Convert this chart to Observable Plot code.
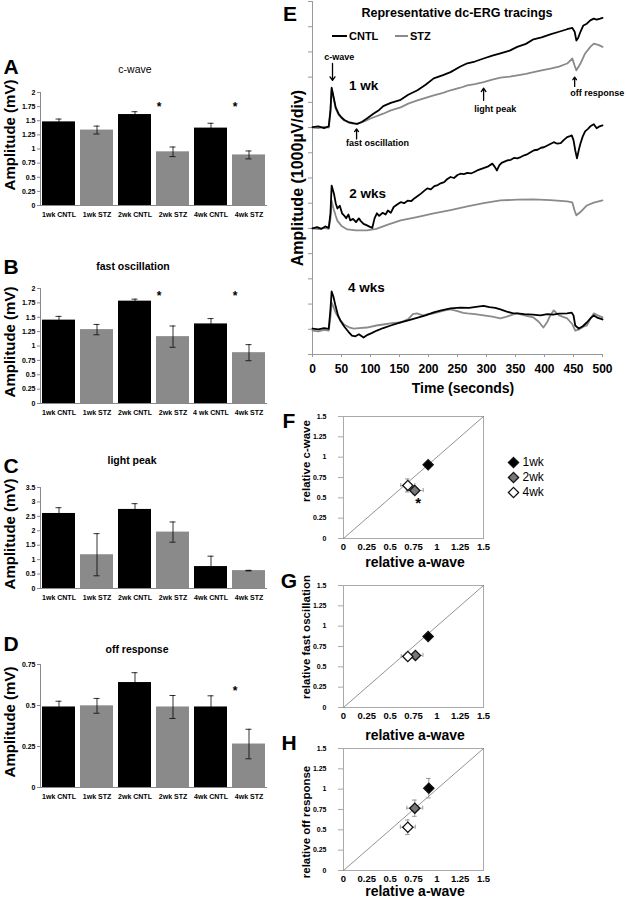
<!DOCTYPE html>
<html><head><meta charset="utf-8">
<script src="https://cdn.jsdelivr.net/npm/d3@7"></script>
<script src="https://cdn.jsdelivr.net/npm/@observablehq/plot@0.6"></script>
<style>
body{margin:0;background:#fff;font-family:"Liberation Sans",Arial,sans-serif;}
#root{position:relative;width:627px;height:900px;overflow:hidden;background:#fff;}
.box{position:absolute;}
.t{position:absolute;white-space:nowrap;font-weight:bold;color:#000;line-height:1;}
</style></head><body><div id="root"></div>
<script>
// ---------- DATA ----------
const barCatsA = ["1wk CNTL","1wk STZ","2wk CNTL","2wk STZ","4wk CNTL","4wk STZ"];
const barCatsB = ["1wk CNTL","1wk STZ","2wk CNTL","2wk STZ","4 wk CNTL","4wk STZ"];
const cwaveMean = [1.48,1.335,1.61,0.95,1.37,0.895];
const cwaveErr  = [0.05,0.07,0.05,0.085,0.085,0.07];
const fastMean  = [1.45,1.285,1.78,1.163,1.384,0.884];
const fastErr   = [0.065,0.09,0.035,0.185,0.093,0.14];
const lightMean = [2.6,1.17,2.74,1.955,0.76,0.62];
const lightErr  = [0.2,0.73,0.2,0.35,0.36,0.01];
const offMean   = [0.491,0.498,0.64,0.491,0.491,0.265];
const offErr    = [0.035,0.045,0.06,0.07,0.068,0.09];
const ticks2    = [0,0.25,0.5,0.75,1,1.25,1.5,1.75,2];
const ticks35   = [0,0.5,1,1.5,2,2.5,3,3.5];
const ticks075  = [0,0.25,0.5,0.75];
const starsA = [{c:"2wk STZ",y:1.82},{c:"4wk STZ",y:1.82}];
const starsB = [{c:"2wk STZ",y:1.93},{c:"4wk STZ",y:1.93}];
const starsD = [{c:"4wk STZ",y:0.61}];

// dc-ERG traces: [time (s), amplitude (divisions of 1000 µV)]
const cntl1wk = [[0,9.02],[10,9.05],[20,8.98],[28,9.05],[31,9.7],[33,10.58],[36,10.25],[40,9.8],[45,9.55],[50,9.4],[55,9.3],[62,9.22],[70,9.18],[77,9.15],[85,9.22],[95,9.38],[105,9.55],[115,9.7],[122,9.85],[135,9.98],[152,10.1],[165,10.3],[181,10.48],[195,10.7],[209,10.95],[225,11.08],[238,11.2],[255,11.42],[267,11.55],[280,11.62],[295,11.74],[310,11.85],[324,11.94],[340,12.05],[353,12.2],[368,12.32],[381,12.5],[395,12.58],[410,12.7],[425,12.8],[439,12.9],[448,12.95],[452,12.8],[455,12.45],[458,12.55],[462,12.8],[467,13.05],[473,13.12],[479,13.25],[485,13.32],[490,13.28],[496,13.32],[500,13.35]];
const stz1wk  = [[0,9.0],[10,8.98],[20,9.03],[28,9.0],[31,9.6],[33,10.52],[36,10.2],[40,9.75],[45,9.5],[50,9.38],[55,9.28],[62,9.2],[70,9.16],[77,9.15],[90,9.25],[100,9.36],[122,9.55],[135,9.68],[152,9.8],[165,9.95],[181,10.08],[195,10.18],[209,10.28],[225,10.38],[238,10.48],[255,10.58],[267,10.67],[280,10.72],[295,10.8],[310,10.9],[324,10.98],[340,11.02],[353,11.07],[368,11.13],[381,11.2],[395,11.27],[410,11.34],[425,11.42],[439,11.54],[448,11.74],[452,11.45],[455,11.27],[462,11.54],[470,11.94],[479,12.2],[485,12.33],[494,12.27],[500,12.2]];
const cntl2wk = [[0,5.0],[8,5.05],[15,4.98],[22,5.08],[28,5.02],[31,5.6],[33,6.7],[37,6.38],[40,6.0],[43,5.79],[47,5.9],[51,5.6],[55,5.5],[58,5.4],[62,5.55],[65,5.32],[70,5.38],[75,5.25],[80,5.4],[83,5.3],[88,5.18],[94,5.12],[99,5.06],[103,5.02],[107,5.4],[111,5.6],[115,5.5],[121,5.62],[126,5.55],[130,5.71],[135,5.62],[140,5.85],[146,5.95],[152,6.04],[158,6.0],[164,6.1],[170,6.08],[176,6.2],[182,6.3],[187,6.38],[193,6.5],[198,6.59],[204,6.55],[210,6.68],[216,6.72],[221,6.79],[227,6.84],[232,6.95],[238,7.04],[244,7.0],[250,7.12],[255,7.17],[261,7.15],[267,7.2],[273,7.18],[278,7.23],[284,7.3],[290,7.35],[296,7.4],[302,7.45],[310,7.57],[314,7.45],[318,7.3],[322,7.5],[326,7.6],[331,7.65],[336,7.7],[342,7.72],[348,7.8],[353,7.78],[359,7.83],[365,7.9],[371,7.95],[376,8.02],[382,8.1],[388,8.12],[394,8.2],[399,8.22],[405,8.29],[410,8.35],[416,8.42],[422,8.36],[428,8.38],[433,8.5],[439,8.62],[444,8.66],[447,8.69],[450,8.5],[453,8.1],[456,7.78],[459,8.1],[462,8.37],[466,8.65],[470,8.85],[475,8.95],[479,9.05],[485,9.13],[490,8.97],[495,9.05],[500,9.09]];
const stz2wk  = [[0,5.0],[10,4.97],[20,5.02],[28,4.98],[31,5.4],[33,6.1],[36,5.8],[40,5.5],[43,5.3],[50,5.1],[60,4.96],[75,4.92],[94,4.92],[110,4.98],[130,5.15],[152,5.32],[180,5.45],[209,5.6],[238,5.73],[267,5.87],[295,6.0],[324,6.11],[353,6.14],[381,6.15],[410,6.12],[439,6.07],[448,6.03],[452,5.7],[455,5.52],[462,5.65],[473,5.91],[485,6.02],[500,6.11]];
const cntl4wk = [[0,1.03],[10,1.0],[20,1.05],[28,1.02],[31,1.8],[33,2.5],[36,2.3],[40,1.9],[44,1.55],[48,1.35],[55,1.1],[62,0.9],[68,0.75],[74,0.72],[80,0.8],[88,0.67],[95,0.78],[102,0.85],[111,0.95],[122,1.05],[135,1.15],[152,1.27],[165,1.35],[180,1.45],[195,1.55],[209,1.67],[222,1.75],[238,1.83],[255,1.86],[270,1.85],[285,1.9],[295,1.93],[305,1.88],[315,1.85],[324,1.79],[335,1.7],[345,1.64],[353,1.63],[365,1.6],[380,1.58],[393,1.55],[405,1.6],[415,1.58],[425,1.62],[439,1.63],[447,1.66],[450,1.55],[453,1.15],[459,1.03],[466,1.12],[473,1.27],[480,1.45],[485,1.55],[492,1.45],[500,1.39]];
const stz4wk  = [[0,0.95],[10,0.92],[20,0.98],[28,0.95],[31,1.5],[33,2.06],[36,1.9],[40,1.65],[48,1.35],[55,1.18],[63,1.08],[71,1.03],[80,1.05],[94,1.07],[110,1.15],[125,1.2],[140,1.25],[152,1.27],[165,1.4],[173,1.6],[180,1.63],[190,1.55],[200,1.6],[209,1.63],[220,1.7],[230,1.76],[238,1.79],[250,1.72],[260,1.65],[267,1.63],[280,1.6],[295,1.55],[310,1.5],[324,1.43],[335,1.5],[345,1.58],[353,1.63],[365,1.55],[381,1.47],[390,1.3],[398,1.07],[405,1.3],[410,1.55],[416,1.75],[425,1.55],[439,1.43],[448,1.2],[453,0.95],[460,1.0],[467,1.1],[473,1.15],[480,1.45],[485,1.63],[492,1.55],[500,1.47]];
const eXTicks = [0,50,100,150,200,250,300,350,400,450,500];
const eYTicks = [0,1,2,3,4,5,6,7,8,9,10,11,12,13,14];
const eLabels = [{t:88,v:10.68,s:"1 wk"},{t:95,v:6.39,s:"2 wks"},{t:93,v:2.66,s:"4 wks"}];
const eNotes  = [{t:46,v:11.8,s:"c-wave"},{t:112,v:8.37,s:"fast oscillation"},{t:315,v:9.72,s:"light peak"},{t:491,v:10.36,s:"off response"}];
const eArrows = [{t1:34.5,v1:11.55,t2:34.5,v2:10.87},{t1:76,v1:8.55,t2:76,v2:8.95},{t1:295,v1:10.08,t2:295,v2:10.56},{t1:452,v1:10.63,t2:452,v2:11.0}];

// relative scatter panels (1wk, 2wk, 4wk)
const groups = ["1wk","2wk","4wk"];
const relA_F = [0.907,0.764,0.689], relA_F_err = [0.02,0.09,0.075];
const relC   = [0.906,0.59,0.652],  relC_err   = [0.03,0.04,0.08];
const relA_G = [0.907,0.771,0.689], relA_G_err = [0.02,0.08,0.07];
const relFO  = [0.873,0.64,0.627],  relFO_err  = [0.03,0.03,0.04];
const relA_H = [0.914,0.764,0.689], relA_H_err = [0.02,0.085,0.08];
const relOff = [1.012,0.766,0.532], relOff_err = [0.12,0.1,0.09];
const relTicks = [0,0.25,0.5,0.75,1,1.25,1.5];
const diag = [0,1.5];
const starF = [{x:0.8,y:0.49}];

// ---------- HELPERS ----------
const FONT = '"Liberation Sans", Arial, sans-serif';
const fmt = d => String(d);
const root = document.getElementById("root");
function place(svg, left, top){const d=document.createElement("div");d.className="box";d.style.left=left+"px";d.style.top=top+"px";d.appendChild(svg);root.appendChild(d);}
function txt(s,x,y,size,{weight="bold",rotate=false,anchor="middle"}={}){
  const d=document.createElement("div");d.className="t";d.textContent=s;
  d.style.left=x+"px";d.style.top=y+"px";d.style.fontSize=size+"px";d.style.fontWeight=weight;
  const tx=anchor==="middle"?"-50%":anchor==="start"?"0":"-100%";
  d.style.transform=`translate(${tx},-50%)`+(rotate?" rotate(-90deg)":"");
  root.appendChild(d);
}

function barChart({cats,mean,err,ymax,ticks,stars,top,plotTop,plotBottom}){
  const data=cats.map((c,i)=>({c,v:mean[i],e:err[i],stz:i%2===1}));
  const height=plotBottom-top+22;
  const svg=Plot.plot({
    width:290,height,marginLeft:40,marginRight:23,marginTop:plotTop-top,marginBottom:top+height-plotBottom,
    style:{fontFamily:FONT,fontWeight:"bold",background:"transparent",overflow:"visible"},
    x:{domain:cats,paddingInner:0.14,paddingOuter:0.03,axis:null},
    y:{domain:[0,ymax],axis:null},
    marks:[
      Plot.barY(data,{filter:d=>!d.stz,x:"c",y:"v",fill:"#000"}),
      Plot.barY(data,{filter:d=>d.stz,x:"c",y:"v",fill:"#8a8a8a"}),
      Plot.ruleX(data,{x:"c",y1:d=>d.v-d.e,y2:d=>d.v+d.e,stroke:"#000",strokeWidth:0.8}),
      Plot.tickY(data,{x:"c",y:d=>d.v+d.e,insetLeft:13.5,insetRight:13.5,stroke:"#000",strokeWidth:0.8}),
      Plot.tickY(data,{x:"c",y:d=>d.v-d.e,insetLeft:13.5,insetRight:13.5,stroke:"#000",strokeWidth:0.8}),
      Plot.ruleY([0],{stroke:"#888"}),
      Plot.frame({anchor:"left",stroke:"#888"}),
      Plot.axisY({ticks,tickFormat:fmt,tickSize:3,tickPadding:2,fontSize:7,stroke:"#888",label:null}),
      Plot.axisX({tickSize:0,tickPadding:7,fontSize:7,label:null}),
      Plot.text(stars,{x:"c",y:"y",text:()=>"*",dx:-14,dy:4,fontSize:12})
    ]
  });
  place(svg,0,top);
}

barChart({cats:barCatsA,mean:cwaveMean,err:cwaveErr,ymax:2,ticks:ticks2,stars:starsA,top:80,plotTop:92,plotBottom:205});
barChart({cats:barCatsB,mean:fastMean,err:fastErr,ymax:2,ticks:ticks2,stars:starsB,top:276,plotTop:288,plotBottom:403});
barChart({cats:barCatsA,mean:lightMean,err:lightErr,ymax:3.5,ticks:ticks35,stars:[],top:475,plotTop:487,plotBottom:588});
barChart({cats:barCatsA,mean:offMean,err:offErr,ymax:0.75,ticks:ticks075,stars:starsD,top:652,plotTop:664,plotBottom:787});

// ---------- PANEL E ----------
{
  const svg=Plot.plot({
    width:347,height:400,marginLeft:32,marginRight:25,marginTop:1,marginBottom:46,
    style:{fontFamily:FONT,fontWeight:"bold",background:"transparent",overflow:"visible"},
    x:{domain:[0,500],axis:null},y:{domain:[0,14],axis:null},
    marks:[
      Plot.ruleX([0],{stroke:"#999"}),
      Plot.ruleY([0],{stroke:"#999"}),
      Plot.axisY({ticks:eYTicks,tickFormat:()=>"",tickSize:4,stroke:"#999",label:null}),
      Plot.axisX({ticks:eXTicks,tickFormat:fmt,tickSize:3,tickPadding:7,fontSize:12,stroke:"#999",label:null}),
      Plot.line(stz1wk,{x:d=>d[0],y:d=>d[1],stroke:"#8a8a8a",strokeWidth:1.8}),
      Plot.line(stz2wk,{x:d=>d[0],y:d=>d[1],stroke:"#8a8a8a",strokeWidth:1.8}),
      Plot.line(stz4wk,{x:d=>d[0],y:d=>d[1],stroke:"#8a8a8a",strokeWidth:1.8}),
      Plot.line(cntl1wk,{x:d=>d[0],y:d=>d[1],stroke:"#000",strokeWidth:1.8}),
      Plot.line(cntl2wk,{x:d=>d[0],y:d=>d[1],stroke:"#000",strokeWidth:1.8}),
      Plot.line(cntl4wk,{x:d=>d[0],y:d=>d[1],stroke:"#000",strokeWidth:1.8}),
      Plot.text(eLabels,{x:"t",y:"v",text:"s",fontSize:13.5}),
      Plot.text(eNotes,{x:"t",y:"v",text:"s",fontSize:9}),
      Plot.arrow(eArrows,{x1:"t1",y1:"v1",x2:"t2",y2:"v2",stroke:"#000",strokeWidth:1.3,headLength:5,headAngle:70})
    ]
  });
  place(svg,280,0);
}

// ---------- PANELS F, G, H ----------
function scatter({ax,axe,ry,rye,top,stars}){
  const pts=groups.map((g,i)=>({g,x:ax[i],xe:axe[i],y:ry[i],ye:rye[i]}));
  const svg=Plot.plot({
    width:200,height:153,marginLeft:43,marginRight:17,marginTop:11,marginBottom:20,
    style:{fontFamily:FONT,fontWeight:"bold",background:"transparent",overflow:"visible"},
    x:{domain:[0,1.5],axis:null},y:{domain:[0,1.5],axis:null},
    color:{domain:groups,range:["#000","#777","#fff"]},
    marks:[
      Plot.frame({stroke:"#aaa"}),
      Plot.line(diag,{x:d=>d,y:d=>d,stroke:"#777",strokeWidth:0.8}),
      Plot.axisY({ticks:relTicks,tickFormat:fmt,tickSize:5,tickPadding:12,fontSize:7,stroke:"#aaa",label:null}),
      Plot.axisX({ticks:relTicks,tickFormat:fmt,tickSize:0,tickPadding:5,fontSize:9.5,label:null}),
      Plot.ruleY(pts,{y:"y",x1:d=>d.x-d.xe,x2:d=>d.x+d.xe,stroke:"#999",strokeWidth:1}),
      Plot.ruleX(pts,{x:"x",y1:d=>d.y-d.ye,y2:d=>d.y+d.ye,stroke:"#999",strokeWidth:1}),
      Plot.ruleX(pts,{x:d=>d.x-d.xe,y1:d=>d.y-0.025,y2:d=>d.y+0.025,stroke:"#999",strokeWidth:1}),
      Plot.ruleX(pts,{x:d=>d.x+d.xe,y1:d=>d.y-0.025,y2:d=>d.y+0.025,stroke:"#999",strokeWidth:1}),
      Plot.ruleY(pts,{y:d=>d.y-d.ye,x1:d=>d.x-0.025,x2:d=>d.x+0.025,stroke:"#999",strokeWidth:1}),
      Plot.ruleY(pts,{y:d=>d.y+d.ye,x1:d=>d.x-0.025,x2:d=>d.x+0.025,stroke:"#999",strokeWidth:1}),
      Plot.dot(pts,{x:"x",y:"y",symbol:"diamond2",r:4.6,fill:"g",stroke:"#111",strokeWidth:1.3}),
      Plot.text(stars,{x:"x",y:"y",text:()=>"*",fontSize:15,dy:5})
    ]
  });
  place(svg,300,top);
}
scatter({ax:relA_F,axe:relA_F_err,ry:relC,rye:relC_err,top:405,stars:starF});
scatter({ax:relA_G,axe:relA_G_err,ry:relFO,rye:relFO_err,top:574,stars:[]});
scatter({ax:relA_H,axe:relA_H_err,ry:relOff,rye:relOff_err,top:737,stars:[]});

// legend for F
{
  const svg=Plot.plot({
    width:60,height:50,marginLeft:8,marginRight:0,marginTop:10,marginBottom:10,
    style:{fontFamily:FONT,background:"transparent",overflow:"visible"},
    y:{type:"point",domain:groups,padding:0,axis:null},
    color:{domain:groups,range:["#000","#777","#fff"]},
    marks:[
      Plot.dot(groups,{y:d=>d,frameAnchor:"left",symbol:"diamond2",r:4.6,fill:d=>d,stroke:"#111",strokeWidth:1.3}),
      Plot.text(groups,{y:d=>d,text:d=>d,frameAnchor:"left",dx:9,textAnchor:"start",fontSize:12})
    ]
  });
  place(svg,505,452);
}

// ---------- TEXT ----------
txt("A",11,66,21);txt("B",11,266,21);txt("C",11,465,21);txt("D",11,643,21);
txt("E",290,13,21);txt("F",289,420,21);txt("G",289,580,21);txt("H",289,742,21);
txt("c-wave",135,69,10.5,{weight:"normal"});
txt("fast oscillation",133,266,10.5);
txt("light peak",132,460,10.5);
txt("off response",137,649,10.5);
txt("Amplitude (mV)",9,135,15,{rotate:true});
txt("Amplitude (mV)",9,342,15,{rotate:true});
txt("Amplitude (mV)",9,534,15,{rotate:true});
txt("Amplitude (mV)",9,722,15,{rotate:true});
txt("Representative dc-ERG tracings",457,13,12.5);
txt("CNTL",349,36,11,{anchor:"start"});
txt("STZ",410,36,11,{anchor:"start"});
{
  const l1=document.createElement("div");l1.className="box";Object.assign(l1.style,{left:"332px",top:"35px",width:"15px",height:"2px",background:"#000"});root.appendChild(l1);
  const l2=document.createElement("div");l2.className="box";Object.assign(l2.style,{left:"395px",top:"35px",width:"13px",height:"2px",background:"#8a8a8a"});root.appendChild(l2);
}
txt("Amplitude (1000µV/div)",298,178,16,{rotate:true});
txt("Time (seconds)",463,388,14);
txt("relative a-wave",415,562,14);
txt("relative a-wave",415,735,14);
txt("relative a-wave",415,891,14);
txt("relative c-wave",307,461,11.5,{rotate:true});
txt("relative fast oscillation",307,637,11.5,{rotate:true});
txt("relative off response",307,822,11.5,{rotate:true});
</script></body></html>
